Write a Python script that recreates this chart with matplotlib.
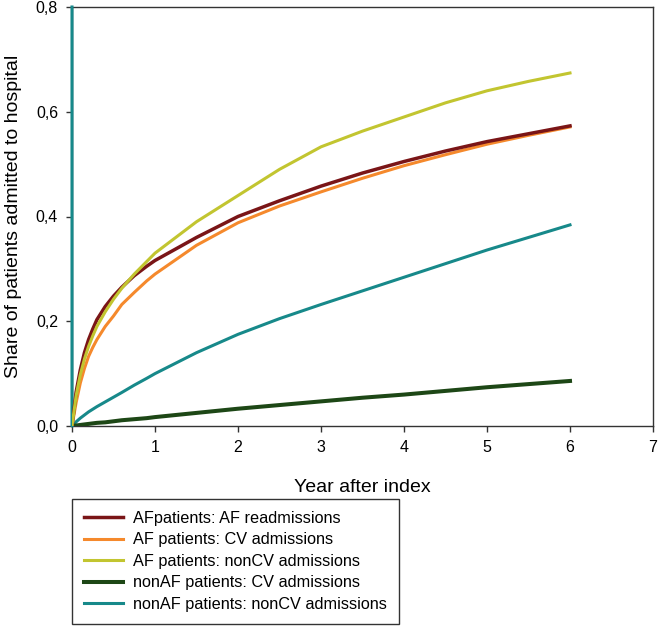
import numpy as np
import matplotlib
matplotlib.use('Agg')
import matplotlib.pyplot as plt

plt.rcParams['font.family'] = ['Liberation Sans', 'DejaVu Sans']

# Années après l'index
years = [0, 0.05, 0.1, 0.15, 0.2, 0.25, 0.3, 0.4, 0.5, 0.6, 0.75, 0.9, 1,
         1.5, 2, 2.5, 3, 3.5, 4, 4.5, 5, 5.5, 6]

af_readm = [0, 0.065, 0.107, 0.14, 0.165, 0.185, 0.203, 0.228, 0.248, 0.265, 0.287, 0.305, 0.316,
            0.36, 0.40, 0.43, 0.458, 0.483, 0.505, 0.525, 0.543, 0.558, 0.573]
af_cv = [0, 0.045, 0.082, 0.11, 0.133, 0.15, 0.165, 0.19, 0.21, 0.232, 0.255, 0.277, 0.29,
         0.345, 0.388, 0.42, 0.447, 0.473, 0.497, 0.518, 0.538, 0.555, 0.571]
af_noncv = [0, 0.058, 0.098, 0.128, 0.152, 0.172, 0.19, 0.218, 0.242, 0.263, 0.29, 0.314, 0.33,
            0.39, 0.44, 0.49, 0.533, 0.563, 0.59, 0.617, 0.64, 0.658, 0.674]
nonaf_cv = [0, 0.001, 0.002, 0.003, 0.004, 0.005, 0.006, 0.007, 0.009, 0.011, 0.013, 0.015, 0.017,
            0.025, 0.033, 0.040, 0.047, 0.054, 0.060, 0.067, 0.074, 0.080, 0.086]
nonaf_noncv = [0, 0.008, 0.015, 0.021, 0.027, 0.032, 0.037, 0.046, 0.055, 0.064, 0.078, 0.091, 0.10,
               0.14, 0.175, 0.205, 0.232, 0.258, 0.284, 0.31, 0.336, 0.36, 0.384]

# la courbe nonAF/nonCV démarre par un trait vertical en 0
noncv_x = [0] + years
noncv_y = [0.8] + nonaf_noncv

fig = plt.figure(figsize=(6.6, 6.27), dpi=100)
ax = fig.add_axes([72 / 660, 1 - 426 / 627, 581 / 660, 419 / 627])

ax.plot(years, nonaf_cv, color='#1d4716', lw=2.9, label='nonAF patients: CV admissions', zorder=2.7)
ax.plot(noncv_x, noncv_y, color='#17898a', lw=2.2, label='nonAF patients: nonCV admissions',
        zorder=2.6, clip_on=False)
ax.plot(years, af_cv, color='#f5892c', lw=2.2, label='AF patients: CV admissions', zorder=3)
ax.plot(years, af_readm, color='#7a1517', lw=2.5, label='AFpatients: AF readmissions', zorder=3)
ax.plot(years, af_noncv, color='#c2c530', lw=2.2, label='AF patients: nonCV admissions', zorder=4)

ax.set_xlim(0, 7)
ax.set_ylim(0, 0.8)
ax.set_xticks(range(8))
ax.set_yticks([0, 0.2, 0.4, 0.6, 0.8])
ax.set_yticklabels(['0,0', '0,2', '0,4', '0,6', '0,8'])
ax.tick_params(direction='out', length=4, width=1, color='#333333', labelsize=11.5, pad=6)
for s in ax.spines.values():
    s.set_color('#333333')
    s.set_linewidth(1)

ax.set_xlabel('Year after index', fontsize=14, labelpad=17)
ax.set_ylabel('Share of patients admitted to hospital', fontsize=14, labelpad=10)

# ordre de la légende comme dans l'original
h, l = ax.get_legend_handles_labels()
order = [3, 2, 4, 0, 1]
leg = fig.legend([h[i] for i in order], [l[i] for i in order],
                 loc='lower left', bbox_to_anchor=(72 / 660, 3 / 627), borderaxespad=0,
                 fontsize=11.7, frameon=True, fancybox=False, framealpha=1,
                 edgecolor='#333333', handlelength=2.4, handletextpad=0.62,
                 labelspacing=0.4, borderpad=0.75)
leg.get_frame().set_linewidth(1)

fig.savefig('out.png', dpi=100)
